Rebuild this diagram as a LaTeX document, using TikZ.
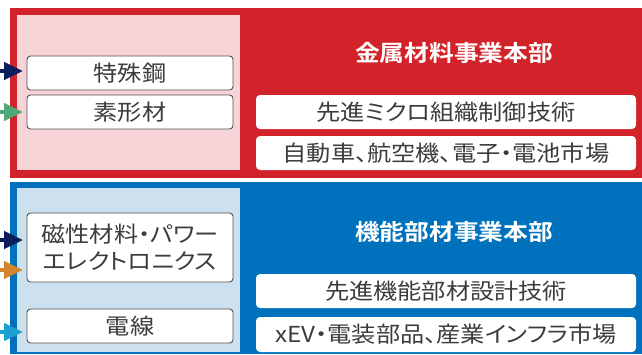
\documentclass[tikz,border=0pt]{standalone}
\usepackage{fontspec}
\setmainfont{Noto Sans CJK JP}[FakeStretch=1.1,RawFeature=+palt]
\newfontfamily\titlefont{Noto Sans CJK JP Bold}[FakeStretch=1.1,RawFeature=+palt]
\usetikzlibrary{arrows.meta}
\definecolor{kred}{HTML}{D2232A}
\definecolor{kpink}{HTML}{F5D3D7}
\definecolor{kblue}{HTML}{0071BC}
\definecolor{klblue}{HTML}{CCE0EF}
\definecolor{ktext}{HTML}{3C3C3C}
\definecolor{knavy}{HTML}{0B1E5B}
\definecolor{kgreen}{HTML}{4FA87A}
\definecolor{korange}{HTML}{D4832E}
\definecolor{kcyan}{HTML}{1DA1D0}
\tikzset{
  leftbox/.style={draw=ktext!90,line width=0.9pt,fill=white,rounded corners=3.5pt,
    text=ktext,font=\fontsize{22}{27}\selectfont,align=center,inner sep=0pt},
  rightbox/.style={fill=white,rounded corners=4pt,
    text=ktext,font=\fontsize{22}{27}\selectfont,inner sep=0pt},
  titletext/.style={text=white,font=\titlefont\fontsize{22.5}{27}\selectfont,inner sep=0pt},
  inarrow/.style={line width=4.5pt,-{Triangle[length=19pt,width=17pt]}}
}
\begin{document}
\begin{tikzpicture}[x=1pt,y=-1pt]
\useasboundingbox (0,0) rectangle (642,354);
% red division
\fill[kred] (10,8) rectangle (642,178);
\fill[kpink] (17,15) rectangle (240,170);
% blue division
\fill[kblue] (10,182) rectangle (642,354);
\fill[klblue] (17,188) rectangle (240,352);

% red boxes
\node[leftbox,minimum width=206pt,minimum height=34pt] (tok) at (130,73) {特殊鋼};
\node[leftbox,minimum width=206pt,minimum height=34pt] (sok) at (130,112) {素形材};
\node[titletext] (kin) at (454,53) {金属材料事業本部};
\node[rightbox,minimum width=380pt,minimum height=34pt] (mic) at (446,112) {先進ミクロ組織制御技術};
\node[rightbox,minimum width=380pt,minimum height=34pt] (jid) at (446,153) {自動車、航空機、電子・電池市場};

% blue boxes
\node[leftbox,minimum width=206pt,minimum height=69pt] (jis) at (130,247.5) {磁性材料・パワー\\エレクトロニクス};
\node[leftbox,minimum width=206pt,minimum height=34pt] (den) at (130,326) {電線};
\node[titletext] (kino) at (454,232) {機能部材事業本部};
\node[rightbox,minimum width=380pt,minimum height=34pt] (sek) at (446,291) {先進機能部材設計技術};
\node[rightbox,minimum width=380pt,minimum height=35pt] (xev) at (446,334.5) {xEV・電装部品、産業インフラ市場};

% arrows
\coordinate (a1s) at (0,71);  \coordinate (a1e) at (23,71);
\coordinate (a2s) at (0,112); \coordinate (a2e) at (23,112);
\coordinate (a3s) at (0,240); \coordinate (a3e) at (23,240);
\coordinate (a4s) at (0,270); \coordinate (a4e) at (23,270);
\coordinate (a5s) at (0,332); \coordinate (a5e) at (23,332);
\draw[inarrow,knavy] (a1s) -- (a1e);
\draw[inarrow,kgreen] (a2s) -- (a2e);
\draw[inarrow,knavy] (a3s) -- (a3e);
\draw[inarrow,korange] (a4s) -- (a4e);
\draw[inarrow,kcyan] (a5s) -- (a5e);
\end{tikzpicture}
\end{document}
